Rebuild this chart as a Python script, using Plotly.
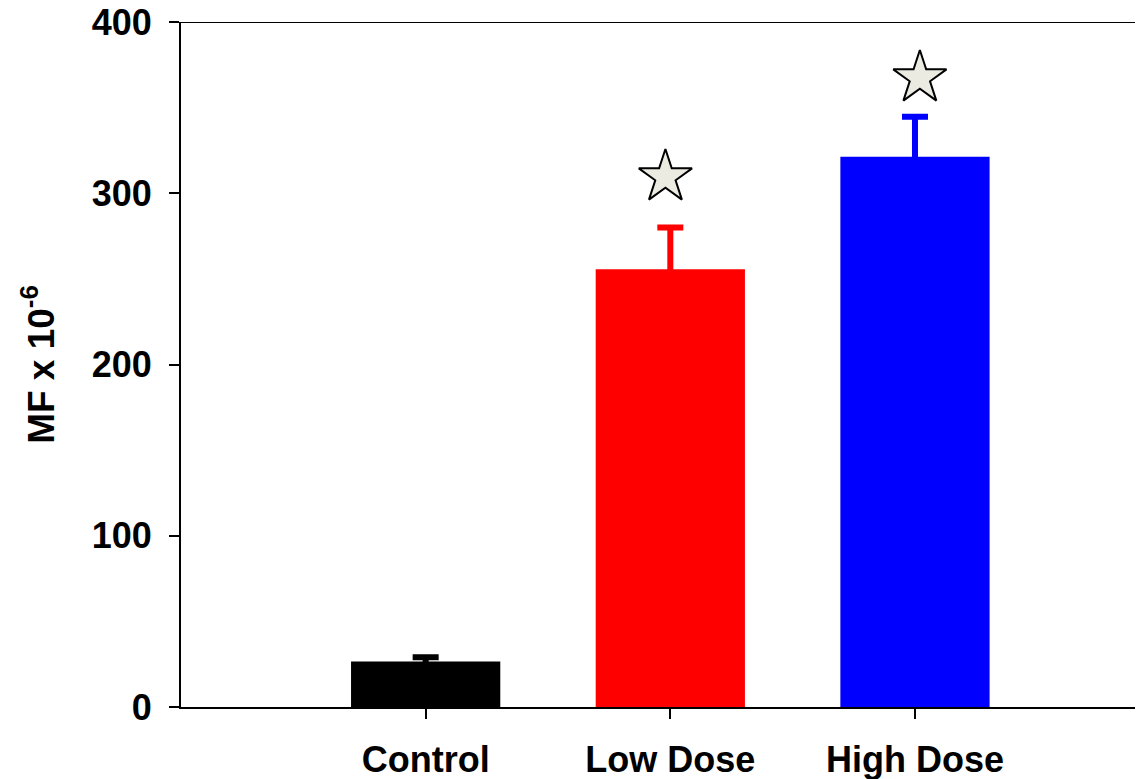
import plotly.graph_objects as go

categories = ["Control", "Low Dose", "High Dose"]
means = [26.5, 255.6, 321.3]
errors_plus = [2.5, 24.4, 23.4]
colors = ["#000000", "#ff0000", "#0000ff"]
star_x = [1.98, 3.02]
star_y = [309.5, 367.3]
y_ticks = [0, 100, 200, 300, 400]

xpos = [1, 2, 3]
FONT = "Liberation Sans, Arial, sans-serif"

fig = go.Figure()
for i, cat in enumerate(categories):
    fig.add_trace(go.Bar(
        x=[xpos[i]], y=[means[i]], width=0.61, name=cat,
        marker=dict(color=colors[i], line=dict(width=0)),
        error_y=dict(type="data", symmetric=True, array=[errors_plus[i]],
                     color=colors[i], thickness=6, width=13),
        showlegend=False,
    ))

fig.add_trace(go.Scatter(
    x=star_x, y=star_y, mode="markers",
    marker=dict(symbol="star", size=40, color="#ecebe2",
                line=dict(color="black", width=2)),
    showlegend=False,
))

fig.add_shape(type="line", xref="paper", yref="y", x0=0, x1=1, y0=400, y1=400,
              line=dict(color="black", width=2))

fig.update_layout(
    width=1135, height=771,
    margin=dict(l=173, r=0, t=14, b=72, autoexpand=False),
    paper_bgcolor="white", plot_bgcolor="white",
    barmode="overlay",
    font=dict(family=FONT, color="black"),
    xaxis=dict(range=[0, 3.932], tickvals=xpos, ticktext=categories,
               showgrid=False, zeroline=False, showline=True,
               linecolor="black", linewidth=2, automargin=False,
               ticks="outside", ticklen=10, tickwidth=2, tickcolor="black",
               tickfont=dict(family=FONT, size=36, weight="bold", color="black"),
               ticklabelstandoff=10, ticklabeloverflow="allow"),
    yaxis=dict(range=[0, 400], tickvals=y_ticks,
               showgrid=False, zeroline=False, showline=True,
               linecolor="black", linewidth=2, automargin=False,
               ticks="outside", ticklen=10, tickwidth=2, tickcolor="black",
               tickfont=dict(family=FONT, size=36, weight="bold", color="black"),
               ticklabelstandoff=10, ticklabeloverflow="allow",
               title=dict(text="MF x 10<sup>-6</sup>", standoff=26,
                          font=dict(family=FONT, size=37, weight="bold", color="black"))),
)

fig.write_html("out.html")
